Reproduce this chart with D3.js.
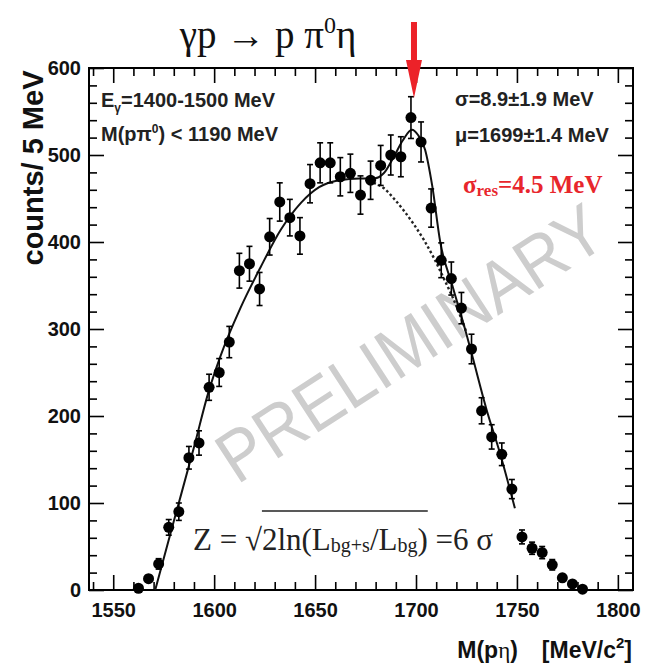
<!DOCTYPE html>
<html>
<head>
<meta charset="utf-8">
<script src="https://cdn.jsdelivr.net/npm/d3@7"></script>
<style>
  body { margin: 0; background: #fff; }
  svg { display: block; }
</style>
</head>
<body>
<svg id="chart" width="648" height="671"></svg>
<script>
// bin centres (5 MeV bins) and counts
const massBins = [1562.5, 1567.5, 1572.5, 1577.5, 1582.5, 1587.5, 1592.5, 1597.5, 1602.5, 1607.5,
  1612.5, 1617.5, 1622.5, 1627.5, 1632.5, 1637.5, 1642.5, 1647.5, 1652.5, 1657.5,
  1662.5, 1667.5, 1672.5, 1677.5, 1682.5, 1687.5, 1692.5, 1697.5, 1702.5, 1707.5,
  1712.5, 1717.5, 1722.5, 1727.5, 1732.5, 1737.5, 1742.5, 1747.5, 1752.5, 1757.5,
  1762.5, 1767.5, 1772.5, 1777.5, 1782.5];
const counts = [2, 13, 30, 72, 90, 152, 169, 233, 250, 285,
  367, 375, 346, 406, 446, 428, 407, 467, 491, 491,
  475, 479, 454, 471, 488, 500, 498, 543, 515, 439,
  379, 358, 324, 277, 206, 176, 156, 116, 61, 48,
  43, 29, 14, 7, 1];
const errors = [1, 4, 6, 9, 10, 13, 14, 15, 16, 18,
  20, 20, 19, 21, 22, 21, 21, 22, 23, 23,
  22, 22, 22, 22, 23, 23, 23, 24, 23, 22,
  20, 19, 18, 17, 15, 14, 13, 11, 8, 7,
  7, 6, 4, 3, 1];

// total fit (solid) and background only (dotted)
const fitMass = [1570.8, 1580, 1590, 1597, 1603, 1613, 1623, 1633, 1643, 1652, 1662, 1672, 1679,
  1684, 1689, 1693.5, 1698, 1701, 1704.5, 1708, 1712, 1718, 1725, 1728, 1735, 1741.5, 1749];
const fitCounts = [0, 79, 164, 226, 268, 324, 371, 414, 445, 463, 471, 473, 473,
  479, 498, 517, 529, 523, 506, 465, 400, 350, 294, 268, 207, 158, 94];
const bgMass = [1679, 1684, 1689, 1694, 1699, 1704, 1709, 1714, 1719, 1725];
const bgCounts = [468, 462, 450, 436, 420, 402, 381, 357, 332, 296];

const xTicks = [1550, 1600, 1650, 1700, 1750, 1800];
const yTicks = [0, 100, 200, 300, 400, 500, 600];
const peakMass = 1699;

const svg = d3.select('#chart');
const mLeft = 89, mRight = 633, mTop = 68, mBottom = 590;

const x = d3.scaleLinear().domain([1538, 1807.5]).range([mLeft, mRight]);
const y = d3.scaleLinear().domain([0, 600]).range([mBottom, mTop]);

const sans = 'Liberation Sans, Arial, Helvetica, sans-serif';
const serif = 'Liberation Serif, Times New Roman, serif';

// watermark first so everything sits on top of it
svg.append('text')
  .attr('transform', 'translate(410,343) rotate(-33)')
  .attr('text-anchor', 'middle')
  .attr('dominant-baseline', 'central')
  .attr('textLength', 445)
  .attr('lengthAdjust', 'spacingAndGlyphs')
  .style('font', '72px ' + sans)
  .style('fill', '#cdcdcd')
  .text('PRELIMINARY');

// axes, ticks pointing inward on all four sides
const minorX = d3.range(1540, 1810, 10).filter(v => v % 50 !== 0);
const minorY = d3.range(0, 600, 20).filter(v => v % 100 !== 0);

function styleAxis(g) {
  g.select('.domain').remove();
  g.selectAll('line').attr('stroke', '#000').attr('stroke-width', 1.6);
}

svg.append('g').attr('transform', `translate(0,${mBottom})`)
  .call(d3.axisBottom(x).tickValues(xTicks).tickSize(-15).tickPadding(13).tickFormat(d3.format('d')))
  .call(styleAxis)
  .call(g => g.selectAll('text').style('font', 'bold 20px ' + sans).attr('fill', '#111'));
svg.append('g').attr('transform', `translate(0,${mBottom})`)
  .call(d3.axisBottom(x).tickValues(minorX).tickSize(-8).tickFormat(''))
  .call(styleAxis);
svg.append('g').attr('transform', `translate(0,${mTop})`)
  .call(d3.axisTop(x).tickValues(xTicks).tickSize(-15).tickFormat(''))
  .call(styleAxis);
svg.append('g').attr('transform', `translate(0,${mTop})`)
  .call(d3.axisTop(x).tickValues(minorX).tickSize(-8).tickFormat(''))
  .call(styleAxis);

svg.append('g').attr('transform', `translate(${mLeft},0)`)
  .call(d3.axisLeft(y).tickValues(yTicks).tickSize(-15).tickPadding(8))
  .call(styleAxis)
  .call(g => g.selectAll('text').style('font', 'bold 20px ' + sans).attr('fill', '#111'));
svg.append('g').attr('transform', `translate(${mLeft},0)`)
  .call(d3.axisLeft(y).tickValues(minorY).tickSize(-8).tickFormat(''))
  .call(styleAxis);
svg.append('g').attr('transform', `translate(${mRight},0)`)
  .call(d3.axisRight(y).tickValues(yTicks).tickSize(-15).tickFormat(''))
  .call(styleAxis);
svg.append('g').attr('transform', `translate(${mRight},0)`)
  .call(d3.axisRight(y).tickValues(minorY).tickSize(-8).tickFormat(''))
  .call(styleAxis);

svg.append('rect')
  .attr('x', mLeft).attr('y', mTop)
  .attr('width', mRight - mLeft).attr('height', mBottom - mTop)
  .attr('fill', 'none').attr('stroke', '#000').attr('stroke-width', 2);

// fit curves
const fitLine = d3.line().curve(d3.curveMonotoneX);
svg.append('path')
  .datum(bgMass.map((m, i) => [x(m), y(bgCounts[i])]))
  .attr('d', fitLine)
  .attr('fill', 'none').attr('stroke', '#222').attr('stroke-width', 2.4)
  .attr('stroke-dasharray', '2.5,2.5');
svg.append('path')
  .datum(fitMass.map((m, i) => [x(m), y(fitCounts[i])]))
  .attr('d', fitLine)
  .attr('fill', 'none').attr('stroke', '#111').attr('stroke-width', 2);

// data points with error bars
const pts = svg.append('g').selectAll('g')
  .data(massBins.map((m, i) => ({ m, c: counts[i], e: errors[i] })))
  .join('g');
pts.append('line')
  .attr('x1', d => x(d.m)).attr('x2', d => x(d.m))
  .attr('y1', d => y(d.c + d.e)).attr('y2', d => y(Math.max(0, d.c - d.e)))
  .attr('stroke', '#000').attr('stroke-width', 1.6);
pts.selectAll('.cap')
  .data(d => [d.c + d.e, Math.max(0, d.c - d.e)].map(v => ({ m: d.m, v })))
  .join('line')
  .attr('class', 'cap')
  .attr('x1', d => x(d.m) - 3).attr('x2', d => x(d.m) + 3)
  .attr('y1', d => y(d.v)).attr('y2', d => y(d.v))
  .attr('stroke', '#000').attr('stroke-width', 1.6);
pts.append('circle')
  .attr('cx', d => x(d.m)).attr('cy', d => y(d.c))
  .attr('r', 5.5).attr('fill', '#000');

// red arrow marking the peak position
const ax = x(peakMass);
svg.append('path')
  .attr('d', `M${ax - 3},22 L${ax + 3},22 L${ax + 3},60 L${ax + 8},60 L${ax},98 L${ax - 8},60 L${ax - 3},60 Z`)
  .attr('fill', '#ec2229');

// title
const title = svg.append('text')
  .attr('x', 268).attr('y', 48)
  .attr('text-anchor', 'middle')
  .style('font', '39px ' + serif).attr('fill', '#111');
title.append('tspan').text('γp → p π');
title.append('tspan').attr('dy', -15).style('font-size', '24px').text('0');
title.append('tspan').attr('dy', 15).text('η');

// axis titles
svg.append('text')
  .attr('transform', 'translate(43,168) rotate(-90)')
  .attr('text-anchor', 'middle')
  .style('font', 'bold 29px ' + sans).attr('fill', '#111')
  .text('counts/ 5 MeV');

const xl = svg.append('text')
  .attr('x', 632).attr('y', 658)
  .attr('text-anchor', 'end')
  .style('font', 'bold 23px ' + sans).attr('fill', '#111');
xl.append('tspan').text('M(p');
xl.append('tspan').style('font-family', serif).style('font-weight', 'normal').text('η');
xl.append('tspan').text(')');
xl.append('tspan').attr('dx', 24).text('[MeV/c');
xl.append('tspan').attr('dy', -10).style('font-size', '15px').text('2');
xl.append('tspan').attr('dy', 10).text(']');

// annotations
const note = 'bold 20px ' + sans;
const e1 = svg.append('text').attr('x', 101).attr('y', 107).style('font', note).attr('fill', '#222');
e1.append('tspan').text('E');
e1.append('tspan').attr('dy', 5).style('font-size', '12px').text('γ');
e1.append('tspan').attr('dy', -5).text('=1400-1500 MeV');

const e2 = svg.append('text').attr('x', 101).attr('y', 141).style('font', note).attr('fill', '#222');
e2.append('tspan').text('M(pπ');
e2.append('tspan').attr('dy', -8).style('font-size', '12px').text('0');
e2.append('tspan').attr('dy', 8).text(') < 1190 MeV');

svg.append('text').attr('x', 455).attr('y', 106).style('font', note).attr('fill', '#222')
  .text('σ=8.9±1.9 MeV');
svg.append('text').attr('x', 455).attr('y', 142).style('font', note).attr('fill', '#222')
  .text('μ=1699±1.4 MeV');

const res = svg.append('text').attr('x', 463).attr('y', 193)
  .style('font', 'bold 25px ' + serif).attr('fill', '#e8262c');
res.append('tspan').text('σ');
res.append('tspan').attr('dy', 3).style('font-size', '17px').text('res');
res.append('tspan').attr('dy', -3).text('=4.5 MeV');

// significance formula
const f = svg.append('text').attr('x', 193).attr('y', 550)
  .style('font', '31px ' + serif).attr('fill', '#222');
f.append('tspan').text('Z = √2ln(L');
f.append('tspan').attr('dy', 2).style('font-size', '20px').text('bg+s');
f.append('tspan').attr('dy', -2).text('/L');
f.append('tspan').attr('dy', 2).style('font-size', '20px').text('bg');
f.append('tspan').attr('dy', -2).text(') =6 σ');

const fn = f.node();
const full = fn.textContent;
const i0 = full.indexOf('2');
const i1 = full.indexOf(')');
const x0 = fn.getStartPositionOfChar(i0).x;
const x1 = fn.getEndPositionOfChar(i1).x;
svg.append('line')
  .attr('x1', x0).attr('x2', x1)
  .attr('y1', 511).attr('y2', 511)
  .attr('stroke', '#222').attr('stroke-width', 1.5);
</script>
</body>
</html>
